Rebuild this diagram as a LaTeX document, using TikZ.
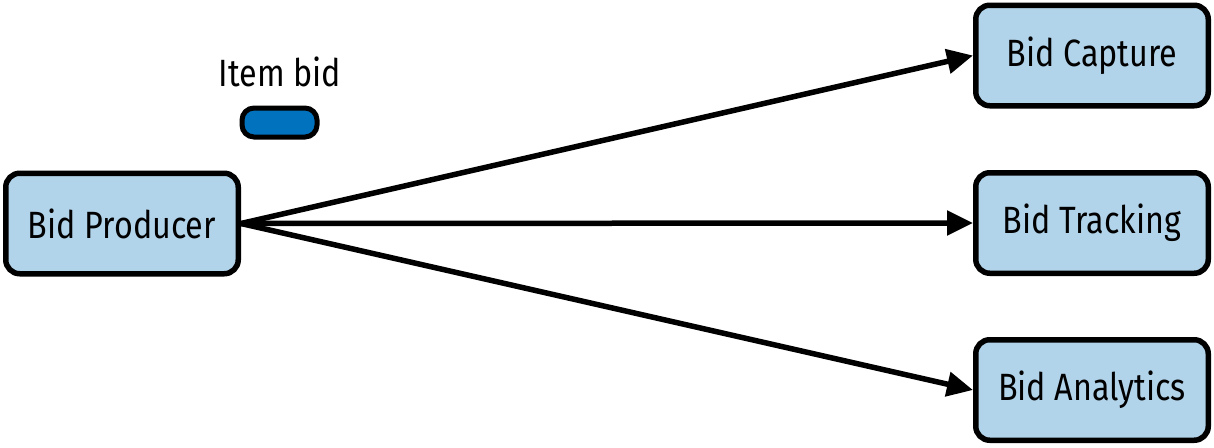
\documentclass[tikz,border=0pt]{standalone}
\usepackage{fontspec}
\setmainfont[FakeStretch=0.85]{Fira Sans}
\usetikzlibrary{arrows.meta}
\definecolor{boxfill}{RGB}{178,212,234}
\definecolor{pillfill}{RGB}{0,114,190}
\begin{document}
\begin{tikzpicture}[x=1pt,y=-1pt,
  box/.style={draw=black,line width=5.5pt,fill=boxfill,rounded corners=14pt,
    minimum width=232.5pt,minimum height=100.5pt,inner sep=0pt,font=\fontsize{38}{44}\selectfont},
  conn/.style={line width=5.5pt,-{Triangle[length=26pt,width=24pt]}}]
\useasboundingbox (0,0) rectangle (1214,447);
\node[box] (prod) at (122,223.5) {Bid Producer};
\node[box] (cap) at (1092,55.5) {Bid Capture};
\node[box] (trk) at (1092,223) {Bid Tracking};
\node[box] (ana) at (1092,390) {Bid Analytics};
\node[draw=black,line width=5pt,fill=pillfill,rounded corners=12pt,minimum width=75pt,minimum height=29pt,inner sep=0pt] (pill) at (279.5,122.5) {};
\node[font=\fontsize{38}{44}\selectfont] (lbl) at (280,72) {Item bid};
\draw[conn] (prod.east) -- (cap.west);
\draw[conn] (prod.east) -- (trk.west);
\draw[conn] (prod.east) -- (ana.west);
\end{tikzpicture}
\end{document}
